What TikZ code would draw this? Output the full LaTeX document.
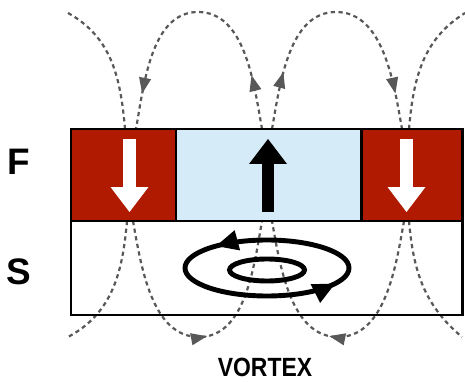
\documentclass[tikz,border=0pt]{standalone}
\usepackage{fontspec}
\setmainfont{Liberation Sans}
\newfontfamily\narrowfont{Liberation Sans}[FakeStretch=0.87]
\usetikzlibrary{arrows.meta,decorations.markings}
\definecolor{domred}{RGB}{176,26,0}
\definecolor{domblue}{RGB}{213,236,248}
\definecolor{fieldgray}{RGB}{88,88,88}

\begin{document}
\begin{tikzpicture}
    [x=0.02cm, y=0.02cm,
    field/.style={fieldgray, line width=1.25pt, dash pattern=on 2.4pt off 2pt},
    ->-/.style={decoration={markings, mark=at position #1 with {\arrow{Triangle[length=9pt, width=7pt, line width=0pt]}}}, postaction={decorate}},
    ->->-/.style 2 args={decoration={markings,
        mark=at position #1 with {\arrow{Triangle[length=9pt, width=7pt, line width=0pt]}},
        mark=at position #2 with {\arrow{Triangle[length=9pt, width=7pt, line width=0pt]}}}, postaction={decorate}},
    layer/.style={draw=black, line width=1.7pt},
    spin/.style={line width=0.25cm, -{Triangle[length=0.5cm, width=0.76cm, line width=0pt]}},
    ring/.style={black, line width=2.8pt},
    swirl/.style={decoration={markings,
        mark=at position 0.39 with {\arrow{Triangle[length=0.44cm, width=0.42cm, line width=0pt]}},
        mark=at position 0.94 with {\arrow{Triangle[length=0.44cm, width=0.42cm, line width=0pt]}}}, postaction={decorate}},
    tag/.style={font=\bfseries\fontsize{21}{25}\selectfont}]
    \useasboundingbox (0,0) rectangle (465,381);

    % stray field above the film
    \coordinate (e1) at (68,368);
    \coordinate (e2) at (465,368);
    \coordinate (t1) at (198,369);
    \coordinate (t2) at (336,369);
    \coordinate (p1) at (125,252);
    \coordinate (p2) at (136,252);
    \coordinate (p3) at (262,252);
    \coordinate (p4) at (272,252);
    \coordinate (p5) at (402,252);
    \coordinate (p6) at (409,252);
    % ... and below it
    \coordinate (e3) at (68,44);
    \coordinate (e4) at (462,44);
    \coordinate (b1) at (199,44);
    \coordinate (b2) at (338,44);
    \coordinate (q1) at (127,160);
    \coordinate (q2) at (133,160);
    \coordinate (q3) at (262,160);
    \coordinate (q4) at (272,160);
    \coordinate (q5) at (404,160);
    \coordinate (q6) at (409,160);

    \draw[field] (e1) to[out=-29, in=95] (p1);
    \draw[field, ->->-={0.19}{0.875}] (p3) to[out=100, in=0, looseness=0.9] (t1) to[out=180, in=80, looseness=0.9] (p2);
    \draw[field, ->->-={0.2}{0.875}] (p4) to[out=80, in=180, looseness=0.9] (t2) to[out=0, in=100, looseness=0.9] (p5);
    \draw[field] (p6) to[out=85, in=212] (e2);

    \draw[field] (q1) to[out=-95, in=28] (e3);
    \draw[field, ->-=0.53] (q2) to[out=-80, in=180, looseness=0.9] (b1) to[out=0, in=-100, looseness=0.9] (q3);
    \draw[field, ->-=0.53] (q5) to[out=-100, in=0, looseness=0.9] (b2) to[out=180, in=-80, looseness=0.9] (q4);
    \draw[field] (q6) to[out=-85, in=140] (e4);

    % F layer: three domains
    \fill[domred] (71,160) rectangle (176,252);
    \fill[domblue] (176,160) rectangle (361,252);
    \fill[domred] (361,160) rectangle (462,252);
    \draw[layer] (71,160) rectangle (462,252);
    \draw[layer] (176,160) -- (176,252) (361,160) -- (361,252);
    % S layer
    \draw[layer] (71,66) rectangle (462,160);

    \coordinate (mL1) at (129.5,242);
    \coordinate (mL2) at (129.5,169);
    \coordinate (mC1) at (268,169);
    \coordinate (mC2) at (268,242);
    \coordinate (mR1) at (406.5,242);
    \coordinate (mR2) at (406.5,169);
    \draw[spin, white] (mL1) -- (mL2);
    \draw[spin, black] (mC1) -- (mC2);
    \draw[spin, white] (mR1) -- (mR2);

    \coordinate (vc) at (267,113);
    \draw[ring, swirl] (vc) ellipse [x radius=82, y radius=28];
    \draw[ring] ([yshift=-0.04cm]vc) ellipse [x radius=37.5, y radius=11];

    \node[tag] (lF) at (19,219) {F};
    \node[tag] (lS) at (19,109) {S};
    \node[font=\narrowfont\bfseries\fontsize{15}{18}\selectfont] (lV) at (265,14) {VORTEX};
\end{tikzpicture}
\end{document}
